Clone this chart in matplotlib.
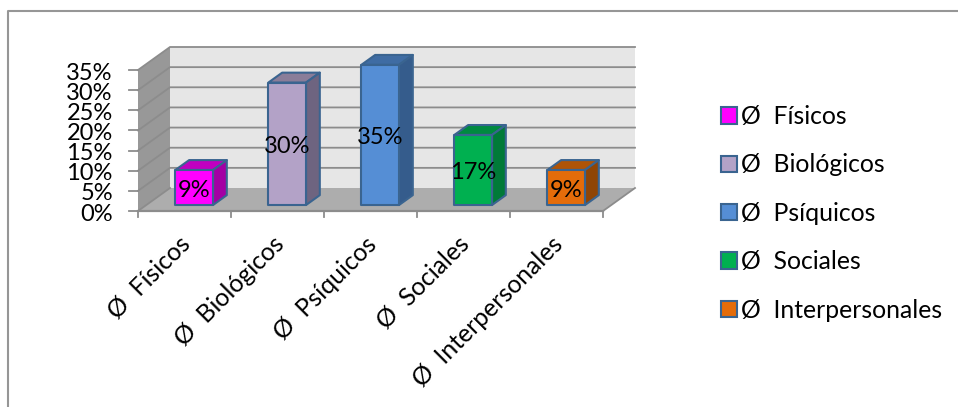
import matplotlib
matplotlib.use("Agg")
from matplotlib import pyplot as plt
from matplotlib.patches import Polygon, Rectangle

plt.rcParams['font.family'] = ['Lato', 'DejaVu Sans']

categories = ["Físicos", "Biológicos", "Psíquicos", "Sociales", "Interpersonales"]
values = [8.7, 30.4, 34.8, 17.4, 8.7]
value_labels = ["9%", "30%", "35%", "17%", "9%"]
y_ticks = [0, 5, 10, 15, 20, 25, 30, 35]

front_colors = ["#FF00FF", "#B3A2C7", "#558ED5", "#00B050", "#E46C0A"]
top_colors = ["#C000C0", "#8A7D99", "#3F6CA3", "#008A40", "#AF5407"]
side_colors = ["#A400A4", "#6E6480", "#355C8C", "#007A38", "#8F4506"]
edge_color = "#3A6490"
grid_color = "#8C8C8C"

W, H = 958, 407
FS = 17
FS_TEXT = 17.8
fig = plt.figure(figsize=(W / 100, H / 100), dpi=100)


def px_axes(x0, y0, x1, y1):
    return fig.add_axes([x0 / W, 1 - y1 / H, (x1 - x0) / W, (y1 - y0) / H])


# frame of the chart
bg = fig.add_axes([0, 0, 1, 1])
bg.set_xlim(0, W)
bg.set_ylim(H, 0)
bg.axis("off")
bg.plot([8.5, 8.5, 958], [407, 10.5, 10.5], color="#969696", lw=1.5)

# front plane of the 3d box
ax = px_axes(138, 70, 603, 211)
ax.set_xlim(0, 5)
ax.set_ylim(0, 35)
ax.axis("off")
ax.patch.set_alpha(0)

# one unit of depth in data units (32 px right, 23 px up)
DX = 32 / 93
DY = 23 / (141 / 35)


def pt(x, y, d):
    return (x + d * DX, y + d * DY)


def poly(points, fc, ec="none", lw=0, z=1):
    ax.add_patch(Polygon(points, closed=True, facecolor=fc, edgecolor=ec,
                         linewidth=lw, zorder=z, clip_on=False, joinstyle="round"))


top = y_ticks[-1]
poly([pt(0, 0, 1), pt(5, 0, 1), pt(5, top, 1), pt(0, top, 1)], "#E6E6E6")
poly([pt(0, 0, 0), pt(0, 0, 1), pt(0, top, 1), pt(0, top, 0)], "#989898")
poly([pt(0, 0, 0), pt(5, 0, 0), pt(5, 0, 1), pt(0, 0, 1)], "#ADADAD")

for v in y_ticks:
    p = [pt(0, v, 0), pt(0, v, 1), pt(5, v, 1)]
    if v == 0:
        p = [pt(0, v, 0), pt(0, v, 1)]
    ax.plot([q[0] for q in p], [q[1] for q in p], color=grid_color, lw=1.3,
            zorder=2, clip_on=False, solid_joinstyle="miter")
    ax.plot([-0.095, 0], [v, v], color=grid_color, lw=1.3, zorder=2, clip_on=False)
    ax.text(-0.27, v - 0.75, f"{v}%", ha="right", va="center", fontsize=FS, color="black")

ax.plot([pt(5, 0, 0)[0], pt(5, 0, 1)[0]], [pt(5, 0, 0)[1], pt(5, 0, 1)[1]],
        color=grid_color, lw=1.3, zorder=2, clip_on=False)
ax.plot([0, 5], [0, 0], color=grid_color, lw=1.6, zorder=2, clip_on=False)
for i in range(6):
    ax.plot([i, i], [0, -1.6], color=grid_color, lw=1.3, zorder=2, clip_on=False)

# bars
bar_w = 0.405
d0, d1 = 0.26, 0.69
for i, v in enumerate(values):
    x0 = i + 0.5 - bar_w / 2 + 0.015
    x1 = x0 + bar_w
    poly([pt(x0, v, d0), pt(x1, v, d0), pt(x1, v, d1), pt(x0, v, d1)],
         top_colors[i], edge_color, 1.5, 3)
    poly([pt(x1, 0, d0), pt(x1, 0, d1), pt(x1, v, d1), pt(x1, v, d0)],
         side_colors[i], edge_color, 1.5, 3)
    poly([pt(x0, 0, d0), pt(x1, 0, d0), pt(x1, v, d0), pt(x0, v, d0)],
         front_colors[i], edge_color, 1.5, 4)
    cx, cy = pt((x0 + x1) / 2, v / 2, d0)
    ax.text(cx, cy - 0.65, value_labels[i], ha="center", va="center", fontsize=FS,
            color="black", zorder=5)

# rotated category labels, right end hangs under the middle of the slot
for i, name in enumerate(categories):
    ax.text(i + 0.44, -5.3, f"Ø  {name}", rotation=45, rotation_mode="anchor",
            ha="right", va="top", fontsize=FS_TEXT, color="black", clip_on=False)

# legend
handles = [Rectangle((0, 0), 1, 1, facecolor=c, edgecolor=edge_color, linewidth=1.5)
           for c in front_colors]
bg.legend(handles, [f"Ø  {c}" for c in categories], loc="upper left",
          bbox_to_anchor=(721 / W, 1 - 105 / H), frameon=False, fontsize=FS_TEXT,
          labelspacing=1.03, handlelength=0.65, handleheight=0.65, handletextpad=0.14,
          borderpad=0, borderaxespad=0)

fig.savefig("out.png", dpi=100)
